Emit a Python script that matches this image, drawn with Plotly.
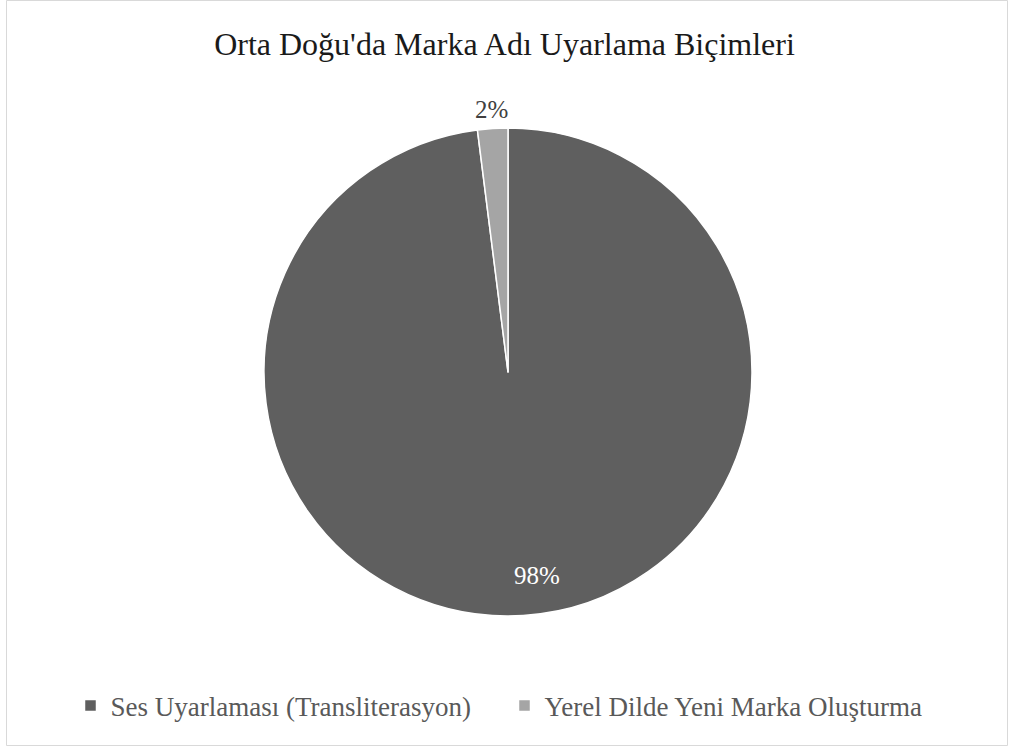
import math
import plotly.graph_objects as go

title = "Orta Doğu'da Marka Adı Uyarlama Biçimleri"
labels = ["Ses Uyarlaması (Transliterasyon)", "Yerel Dilde Yeni Marka Oluşturma"]
values = [98, 2]
colors = ["#5f5f5f", "#a5a5a5"]

W, H = 1009, 747
cx, cy, r = 508, 372, 244

fig = go.Figure(go.Pie(
    labels=labels,
    values=values,
    sort=False,
    direction="clockwise",
    rotation=0,
    marker=dict(colors=colors, line=dict(color="white", width=1.5)),
    textinfo="none",
    domain=dict(x=[(cx - r) / W, (cx + r) / W], y=[(H - cy - r) / H, (H - cy + r) / H]),
    hoverinfo="label+percent",
))

# data labels placed from the slice mid-angles
total = sum(values)
label_style = [
    dict(rad=0.835 * r, color="white", xshift=16),
    dict(rad=r + 19, color="#404040", xshift=0),
]
annotations = []
acc = 0
for v, st in zip(values, label_style):
    mid = (acc + v / 2) / total * 2 * math.pi
    acc += v
    px = cx + st["rad"] * math.sin(mid)
    py = cy - st["rad"] * math.cos(mid)
    annotations.append(dict(
        text=f"{round(v / total * 100)}%", x=px / W, y=1 - py / H,
        xref="paper", yref="paper", showarrow=False,
        xanchor="center", yanchor="middle", xshift=st["xshift"],
        font=dict(family="Liberation Serif", size=25, color=st["color"]),
    ))

fig.update_layout(
    width=W, height=H,
    margin=dict(l=0, r=0, t=0, b=0),
    paper_bgcolor="white",
    title=dict(text=title, x=0.5, xanchor="center", y=1 - 44 / H, yanchor="middle",
               font=dict(family="Liberation Serif", size=32, color="#1a1a1a")),
    showlegend=True,
    legend=dict(orientation="h", x=0.5, xanchor="center", y=1 - 706 / H, yanchor="middle",
                font=dict(family="Liberation Serif", size=27, color="#595959"),
                itemwidth=30, traceorder="normal",
                entrywidth=389, entrywidthmode="pixels"),
    annotations=annotations,
    shapes=[dict(type="rect", xref="paper", yref="paper",
                 x0=6.5 / W, x1=1007.5 / W, y0=1 - 745.5 / H, y1=1 - 0.5 / H,
                 line=dict(color="#d9d9d9", width=1))],
)

fig.write_html("out.html")
